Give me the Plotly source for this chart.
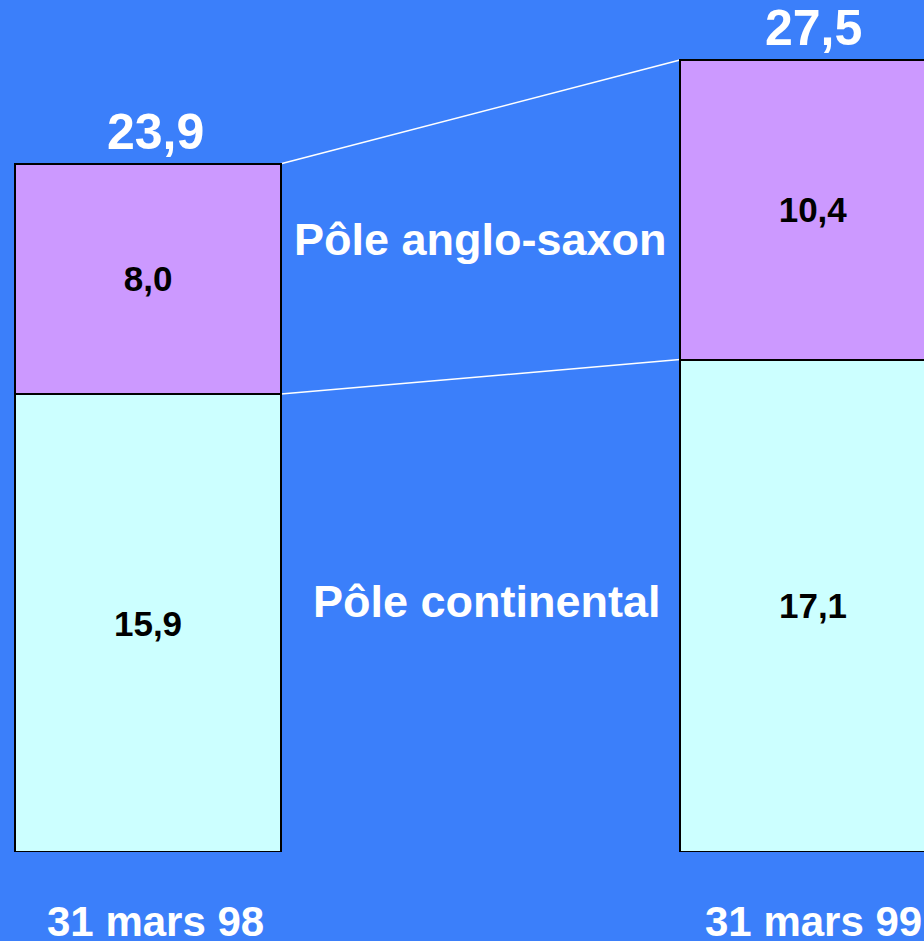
import plotly.graph_objects as go

# Data
dates = ["31 mars 98", "31 mars 99"]
continental = [15.9, 17.1]
anglo_saxon = [8.0, 10.4]
series_names = ["Pôle continental", "Pôle anglo-saxon"]

def fr(v):
    return f"{v:.1f}".replace(".", ",")

totals = [round(c + a, 1) for c, a in zip(continental, anglo_saxon)]

BG = "#3B7FFA"
FONT = "Liberation Sans, Arial, sans-serif"
BAR_W = 0.4
LABEL_XSHIFT = [7, 0]

fig = go.Figure()
fig.add_trace(go.Bar(
    x=dates, y=continental, name=series_names[0], width=BAR_W,
    marker=dict(color="#CCFFFF", line=dict(color="black", width=2)),
    text=[fr(v) for v in continental], textposition="inside",
    insidetextanchor="middle", textangle=0,
    textfont=dict(family=FONT, size=35, color="black", weight="bold"),
    hoverinfo="skip",
))
fig.add_trace(go.Bar(
    x=dates, y=anglo_saxon, name=series_names[1], width=BAR_W,
    marker=dict(color="#CC99FF", line=dict(color="black", width=2)),
    text=[fr(v) for v in anglo_saxon], textposition="inside",
    insidetextanchor="middle", textangle=0,
    textfont=dict(family=FONT, size=35, color="black", weight="bold"),
    hoverinfo="skip",
))

# Connecting lines between bars
for lvl0, lvl1 in [(continental[0], continental[1]), (totals[0], totals[1])]:
    fig.add_shape(type="line", xref="x", yref="y",
                  x0=0 + BAR_W / 2, x1=1 - BAR_W / 2, y0=lvl0, y1=lvl1,
                  line=dict(color="white", width=1.5), layer="below")

# Totals above bars
for i, t in enumerate(totals):
    fig.add_annotation(x=i, y=t, xref="x", yref="y", text=fr(t),
                       showarrow=False, yanchor="bottom", yshift=2,
                       xshift=LABEL_XSHIFT[i],
                       font=dict(family=FONT, size=50, color="white", weight="bold"))

# Date labels under bars
for i, d in enumerate(dates):
    fig.add_annotation(x=i, y=-0.081, xref="x", yref="paper", text=d,
                       showarrow=False, yanchor="middle",
                       xshift=LABEL_XSHIFT[i],
                       font=dict(family=FONT, size=42, color="white", weight="bold"))

# Series labels between bars
fig.add_annotation(x=0.5, y=(852 - 239) / 852, xref="x", yref="paper",
                   text=series_names[1], showarrow=False, yanchor="middle",
                   font=dict(family=FONT, size=45, color="white", weight="bold"))
fig.add_annotation(x=0.51, y=(852 - 601) / 852, xref="x", yref="paper",
                   text=series_names[0], showarrow=False, yanchor="middle",
                   font=dict(family=FONT, size=45, color="white", weight="bold"))

fig.update_layout(
    barmode="stack",
    width=924, height=941,
    margin=dict(l=0, r=0, t=0, b=89, pad=0),
    paper_bgcolor=BG, plot_bgcolor=BG,
    showlegend=False,
    xaxis=dict(range=[-0.2226, 1.1669], showgrid=False, zeroline=False,
               showticklabels=False, showline=False, fixedrange=True),
    yaxis=dict(range=[0, 852 / 28.8], showgrid=False, zeroline=False,
               showticklabels=False, showline=False, fixedrange=True),
)

fig.write_html(
    "out.html",
    config={"displayModeBar": False},
    post_script="document.body.style.margin='0';document.body.style.overflow='hidden';"
                "document.documentElement.style.background='" + BG + "';",
)
